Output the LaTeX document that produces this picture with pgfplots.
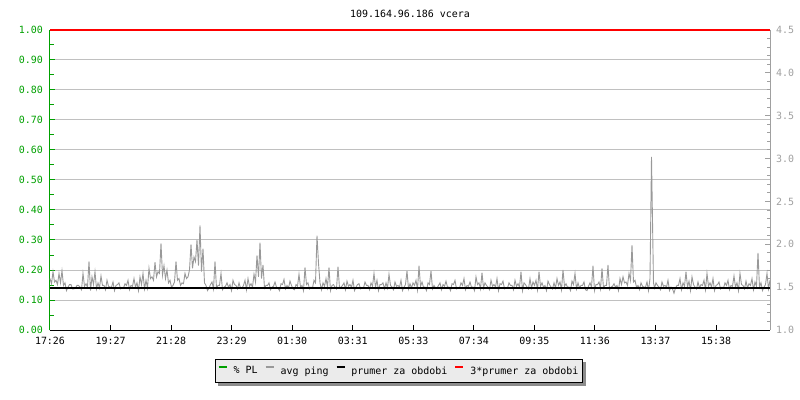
\documentclass[border=0pt]{standalone}
\usepackage{fontspec}
\setmainfont{DejaVu Sans Mono}
\usepackage{pgfplots}
\pgfplotsset{compat=1.18}
\pgfdeclarelayer{shadowlayer}
\pgfsetlayers{shadowlayer,main}
\definecolor{rrdgreen}{HTML}{00A000}
\definecolor{rrdgrey}{HTML}{A0A0A0}
\definecolor{gridgrey}{HTML}{C0C0C0}
\definecolor{pinggrey}{HTML}{999999}
\definecolor{legbg}{HTML}{EBEBEB}
\definecolor{rrdred}{HTML}{FF0000}
\newcommand{\lf}{\fontsize{10}{12}\selectfont}
\begin{document}
\begin{tikzpicture}
\useasboundingbox (-50bp,-70bp) rectangle (750bp,330bp);
\begin{axis}[
  at={(0,0)}, anchor=south west,
  scale only axis, width=720bp, height=300bp,
  xmin=0, xmax=720, ymin=0, ymax=1,
  axis x line=bottom, axis y line=left,
  x axis line style={-, black, line width=1bp},
  y axis line style={-, draw=rrdgreen, line width=1bp},
  tick align=inside,
  major tick length=5bp, minor tick length=4bp,
  xtick={0,60.55,121.1,181.65,242.2,302.75,363.3,423.85,484.4,544.95,605.5,666.05},
  xticklabels={17:26,19:27,21:28,23:29,01:30,03:31,05:33,07:34,09:35,11:36,13:37,15:38},
  xtick style={black, line width=1bp},
  ytick={0,0.1,0.2,0.3,0.4,0.5,0.6,0.7,0.8,0.9,1},
  yticklabels={0.00,0.10,0.20,0.30,0.40,0.50,0.60,0.70,0.80,0.90,1.00},
  minor ytick={0.05,0.15,0.25,0.35,0.45,0.55,0.65,0.75,0.85,0.95},
  ytick style={rrdgreen, line width=1bp},
  minor tick style={rrdgreen, line width=1bp},
  ymajorgrids, grid style={gridgrey, line width=1bp},
  yticklabel style={font=\lf, text=rrdgreen, xshift=-3.7bp},
  xticklabel style={font=\lf, yshift=-3.7bp},
  title={109.164.96.186 vcera},
  title style={font=\lf, at={(0.5,1)}, anchor=base, yshift=7bp},
  clip=false,
]
\addplot[rrdgreen, line width=1bp, forget plot] coordinates {(0,0) (720,0)};
\end{axis}
\begin{axis}[
  at={(0,0)}, anchor=south west,
  scale only axis, width=720bp, height=300bp,
  xmin=0, xmax=720, ymin=1, ymax=4.5,
  axis x line=bottom, axis y line=right,
  x axis line style={-, black, line width=1bp},
  y axis line style={-, draw=rrdgrey, line width=1bp},
  xtick=\empty,
  tick align=inside,
  major tick length=5bp, minor tick length=3.5bp,
  ytick={1,1.5,2,2.5,3,3.5,4,4.5},
  yticklabels={1.0,1.5,2.0,2.5,3.0,3.5,4.0,4.5},
  minor ytick={1.1,1.2,1.3,1.4,1.6,1.7,1.8,1.9,2.1,2.2,2.3,2.4,2.6,2.7,2.8,2.9,3.1,3.2,3.3,3.4,3.6,3.7,3.8,3.9,4.1,4.2,4.3,4.4},
  ytick style={rrdgrey, line width=1bp},
  minor tick style={rrdgrey, line width=1bp},
  yticklabel style={font=\lf, text=rrdgrey, xshift=2.7bp},
  clip=false,
  legend columns=4,
  legend image code/.code={\draw[#1, line width=2bp] (0bp,3.6bp) -- (8bp,3.6bp);},
  legend style={
    name=leg,
    at={(0.4847,-0.0967)}, anchor=north,
    font=\lf, fill=legbg, draw=black, line width=1bp,
    inner xsep=2bp, inner ysep=5bp,
    /tikz/every odd column/.append style={column sep=4bp},
    /tikz/every even column/.append style={column sep=5bp},
  },
]
\addlegendimage{rrdgreen}
\addlegendentry{\% PL}
\addplot[pinggrey, line width=0.9bp] coordinates {
(0,1.60) (1.5,1.54) (3,1.68) (4.5,1.56) (6,1.58) (7.5,1.53) (9,1.66) (10.5,1.55) (12,1.69) (13.5,1.52)
(15,1.55) (16.5,1.46) (18,1.50) (19.5,1.53) (21,1.53) (22.5,1.48) (24,1.48) (25.5,1.49) (27,1.52) (28.5,1.52)
(30,1.50) (31.5,1.47) (33,1.66) (34.5,1.51) (36,1.54) (37.5,1.50) (39,1.80) (40.5,1.46) (42,1.62) (43.5,1.53)
(45,1.68) (46.5,1.48) (48,1.55) (49.5,1.49) (51,1.63) (52.5,1.52) (54,1.52) (55.5,1.47) (57,1.58) (58.5,1.51)
(60,1.50) (61.5,1.50) (63,1.56) (64.5,1.46) (66,1.52) (67.5,1.53) (69,1.55) (70.5,1.48) (72,1.49) (73.5,1.49)
(75,1.54) (76.5,1.52) (78,1.58) (79.5,1.47) (81,1.52) (82.5,1.51) (84,1.60) (85.5,1.50) (87,1.55) (88.5,1.46)
(90,1.62) (91.5,1.53) (93,1.66) (94.5,1.48) (96,1.58) (97.5,1.49) (99,1.72) (100.5,1.60) (102,1.62) (103.5,1.58)
(105,1.79) (106.5,1.62) (108,1.68) (109.5,1.66) (111,2.01) (112.5,1.64) (114,1.75) (115.5,1.60) (117,1.70) (118.5,1.55)
(120,1.58) (121.5,1.50) (123,1.52) (124.5,1.56) (126,1.80) (127.5,1.58) (129,1.60) (130.5,1.52) (132,1.55) (133.5,1.54)
(135,1.66) (136.5,1.60) (138,1.62) (139.5,1.70) (141,2.00) (142.5,1.72) (144,1.85) (145.5,1.80) (147,2.05) (148.5,1.75)
(150,2.22) (151.5,1.68) (153,1.95) (154.5,1.55) (156,1.52) (157.5,1.46) (159,1.49) (160.5,1.53) (162,1.56) (163.5,1.48)
(165,1.80) (166.5,1.49) (168,1.52) (169.5,1.52) (171,1.66) (172.5,1.47) (174,1.50) (175.5,1.51) (177,1.55) (178.5,1.50)
(180,1.53) (181.5,1.46) (183,1.58) (184.5,1.53) (186,1.52) (187.5,1.48) (189,1.55) (190.5,1.49) (192,1.49) (193.5,1.52)
(195,1.58) (196.5,1.47) (198,1.60) (199.5,1.51) (201,1.54) (202.5,1.50) (204,1.65) (205.5,1.56) (207,1.87) (208.5,1.62)
(210,2.02) (211.5,1.60) (213,1.76) (214.5,1.49) (216,1.52) (217.5,1.52) (219,1.55) (220.5,1.47) (222,1.50) (223.5,1.51)
(225,1.56) (226.5,1.50) (228,1.49) (229.5,1.46) (231,1.54) (232.5,1.53) (234,1.59) (235.5,1.48) (237,1.52) (238.5,1.49)
(240,1.57) (241.5,1.52) (243,1.48) (244.5,1.47) (246,1.53) (247.5,1.51) (249,1.65) (250.5,1.50) (252,1.52) (253.5,1.46)
(255,1.73) (256.5,1.53) (258,1.55) (259.5,1.48) (261,1.50) (262.5,1.49) (264,1.58) (265.5,1.55) (267,2.10) (268.5,1.78)
(270,1.55) (271.5,1.47) (273,1.55) (274.5,1.51) (276,1.60) (277.5,1.50) (279,1.73) (280.5,1.46) (282,1.52) (283.5,1.53)
(285,1.50) (286.5,1.48) (288,1.74) (289.5,1.49) (291,1.50) (292.5,1.52) (294,1.55) (295.5,1.47) (297,1.57) (298.5,1.51)
(300,1.53) (301.5,1.50) (303,1.58) (304.5,1.46) (306,1.50) (307.5,1.53) (309,1.54) (310.5,1.48) (312,1.49) (313.5,1.49)
(315,1.56) (316.5,1.52) (318,1.52) (319.5,1.47) (321,1.55) (322.5,1.51) (324,1.66) (325.5,1.50) (327,1.58) (328.5,1.46)
(330,1.53) (331.5,1.53) (333,1.55) (334.5,1.48) (336,1.55) (337.5,1.49) (339,1.65) (340.5,1.52) (342,1.50) (343.5,1.47)
(345,1.56) (346.5,1.51) (348,1.52) (349.5,1.50) (351,1.58) (352.5,1.46) (354,1.50) (355.5,1.53) (357,1.69) (358.5,1.48)
(360,1.54) (361.5,1.49) (363,1.55) (364.5,1.52) (366,1.58) (367.5,1.47) (369,1.75) (370.5,1.51) (372,1.56) (373.5,1.50)
(375,1.50) (376.5,1.46) (378,1.55) (379.5,1.53) (381,1.69) (382.5,1.48) (384,1.52) (385.5,1.49) (387,1.49) (388.5,1.52)
(390,1.55) (391.5,1.47) (393,1.53) (394.5,1.51) (396,1.57) (397.5,1.50) (399,1.50) (400.5,1.46) (402,1.54) (403.5,1.53)
(405,1.58) (406.5,1.48) (408,1.49) (409.5,1.49) (411,1.55) (412.5,1.52) (414,1.60) (415.5,1.47) (417,1.52) (418.5,1.51)
(420,1.56) (421.5,1.50) (423,1.50) (424.5,1.46) (426,1.62) (427.5,1.53) (429,1.55) (430.5,1.48) (432,1.67) (433.5,1.49)
(435,1.55) (436.5,1.52) (438,1.50) (439.5,1.47) (441,1.58) (442.5,1.51) (444,1.53) (445.5,1.50) (447,1.60) (448.5,1.46)
(450,1.54) (451.5,1.53) (453,1.57) (454.5,1.48) (456,1.49) (457.5,1.49) (459,1.55) (460.5,1.52) (462,1.52) (463.5,1.47)
(465,1.58) (466.5,1.51) (468,1.54) (469.5,1.50) (471,1.68) (472.5,1.46) (474,1.55) (475.5,1.53) (477,1.50) (478.5,1.48)
(480,1.60) (481.5,1.49) (483,1.56) (484.5,1.52) (486,1.58) (487.5,1.47) (489,1.68) (490.5,1.51) (492,1.55) (493.5,1.50)
(495,1.52) (496.5,1.46) (498,1.57) (499.5,1.53) (501,1.50) (502.5,1.48) (504,1.55) (505.5,1.49) (507,1.60) (508.5,1.52)
(510,1.56) (511.5,1.47) (513,1.70) (514.5,1.51) (516,1.54) (517.5,1.50) (519,1.50) (520.5,1.46) (522,1.57) (523.5,1.53)
(525,1.66) (526.5,1.48) (528,1.55) (529.5,1.49) (531,1.52) (532.5,1.52) (534,1.56) (535.5,1.47) (537,1.46) (538.5,1.51)
(540,1.55) (541.5,1.50) (543,1.75) (544.5,1.46) (546,1.53) (547.5,1.53) (549,1.56) (550.5,1.48) (552,1.72) (553.5,1.49)
(555,1.52) (556.5,1.52) (558,1.76) (559.5,1.47) (561,1.50) (562.5,1.51) (564,1.54) (565.5,1.50) (567,1.52) (568.5,1.46)
(570,1.60) (571.5,1.53) (573,1.62) (574.5,1.55) (576,1.56) (577.5,1.52) (579,1.66) (580.5,1.58) (582,1.99) (583.5,1.56)
(585,1.58) (586.5,1.50) (588,1.52) (589.5,1.47) (591,1.55) (592.5,1.51) (594,1.50) (595.5,1.50) (597,1.56) (598.5,1.46)
(600,1.60) (601.5,3.02) (602.5,2.28) (603.5,1.55) (604.5,1.49)
(606,1.55) (607.5,1.52) (609,1.50) (610.5,1.47) (612,1.56) (613.5,1.51) (615,1.52) (616.5,1.50) (618,1.58) (619.5,1.46)
(621,1.50) (622.5,1.48) (624,1.43) (625.5,1.49) (627,1.52) (628.5,1.52) (630,1.60) (631.5,1.47) (633,1.55) (634.5,1.51)
(636,1.68) (637.5,1.50) (639,1.57) (640.5,1.46) (642,1.62) (643.5,1.53) (645,1.50) (646.5,1.48) (648,1.56) (649.5,1.49)
(651,1.53) (652.5,1.52) (654,1.58) (655.5,1.47) (657,1.66) (658.5,1.51) (660,1.55) (661.5,1.50) (663,1.60) (664.5,1.46)
(666,1.52) (667.5,1.53) (669,1.56) (670.5,1.48) (672,1.50) (673.5,1.49) (675,1.55) (676.5,1.52) (678,1.58) (679.5,1.47)
(681,1.52) (682.5,1.51) (684,1.63) (685.5,1.50) (687,1.55) (688.5,1.46) (690,1.66) (691.5,1.53) (693,1.52) (694.5,1.48)
(696,1.57) (697.5,1.49) (699,1.54) (700.5,1.52) (702,1.60) (703.5,1.47) (705,1.56) (706.5,1.51) (708,1.90) (709.5,1.50)
(711,1.55) (712.5,1.46) (714,1.50) (715.5,1.53) (717,1.66) (718.5,1.48) (720,1.58)
};
\addlegendentry{avg ping}
\addplot[black, line width=2bp] coordinates {(0,1.485) (720,1.485)};
\addlegendentry{prumer za obdobi}
\addplot[draw=rrdred, line width=1.2bp] coordinates {(0,4.5) (720,4.5)};
\addlegendentry{3*prumer za obdobi}
\end{axis}
\begin{pgfonlayer}{shadowlayer}
\fill[black!45] ([xshift=3bp,yshift=-3bp]leg.south west) rectangle ([xshift=3bp,yshift=-3bp]leg.north east);
\end{pgfonlayer}
\end{tikzpicture}
\end{document}
